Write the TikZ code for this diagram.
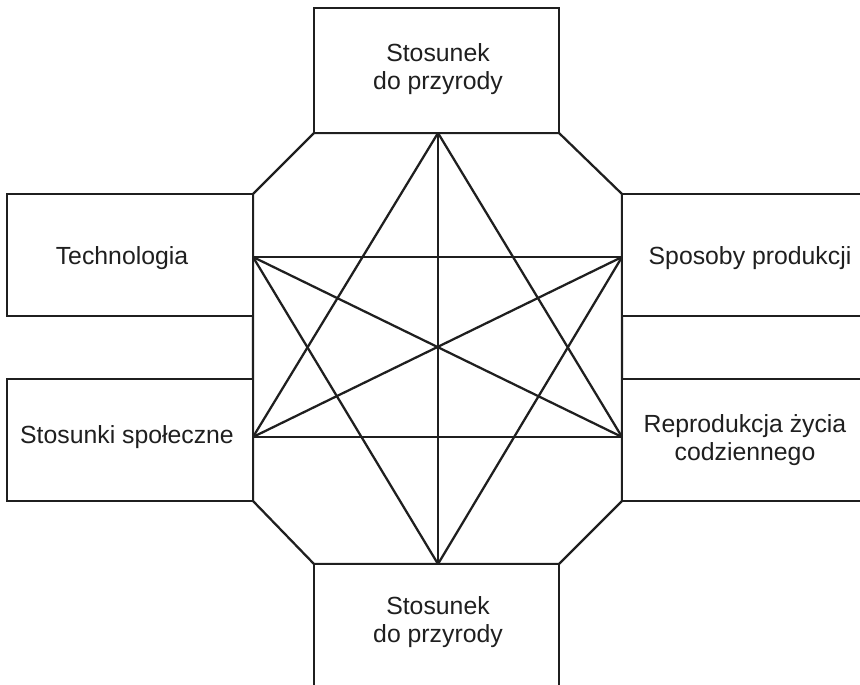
\documentclass[tikz,border=0pt]{standalone}
\usepackage{fontspec}
\setmainfont{Liberation Sans}
\begin{document}
\begin{tikzpicture}[x=0.75pt,y=-0.75pt,
  ln/.style={line width=1.7pt,line join=miter,color=black!88},
  box/.style={ln,draw,fill=white,rectangle,inner sep=0pt},
  lbl/.style={align=center,font=\fontsize{18.6}{20.5}\selectfont,text=black!88,inner sep=0pt}]
\useasboundingbox (0,0) rectangle (860,685);
\clip (0,0) rectangle (860,685);
% octagon
\coordinate (o1) at (314,133);
\coordinate (o2) at (559,133);
\coordinate (o3) at (622,194);
\coordinate (o4) at (622,501);
\coordinate (o5) at (559,564);
\coordinate (o6) at (314,564);
\coordinate (o7) at (253,501);
\coordinate (o8) at (253,194);
\draw[ln] (o1) -- (o2) -- (o3) -- (o4) -- (o5) -- (o6) -- (o7) -- (o8) -- cycle;
% boxes
\node[box,minimum width=183.75pt,minimum height=93.75pt] (top) at (436.5,70.5) {};
\node[box,minimum width=183.75pt,minimum height=93.75pt] (bot) at (436.5,626.5) {};
\node[box,minimum width=184.5pt,minimum height=91.5pt] (lt) at (130,255) {};
\node[box,minimum width=184.5pt,minimum height=91.5pt] (lb) at (130,440) {};
\node[box,minimum width=186pt,minimum height=91.5pt] (rt) at (746,255) {};
\node[box,minimum width=186pt,minimum height=91.5pt] (rb) at (746,440) {};
% labels
\node[lbl] (ttop) at (438,69) {Stosunek\\do przyrody};
\node[lbl] (tbot) at (438,622) {Stosunek\\do przyrody};
\node[lbl] (tlt) at (122,258) {Technologia};
\node[lbl] (tlb) at (127,437) {Stosunki społeczne};
\node[lbl] (trt) at (750,258) {Sposoby produkcji};
\node[lbl] (trb) at (745,440) {Reprodukcja życia\\codziennego};
% star
\coordinate (T) at (438,133);
\coordinate (B) at (438,564);
\coordinate (LT) at (253,257);
\coordinate (RT) at (622,257);
\coordinate (LB) at (253,437);
\coordinate (RB) at (622,437);
\draw[ln] (LT) -- (RT);
\draw[ln] (LB) -- (RB);
\draw[ln] (T) -- (B);
\draw[ln] (LT) -- (RB);
\draw[ln] (LB) -- (RT);
\draw[ln] (T) -- (LB);
\draw[ln] (T) -- (RB);
\draw[ln] (B) -- (LT);
\draw[ln] (B) -- (RT);
\end{tikzpicture}
\end{document}
